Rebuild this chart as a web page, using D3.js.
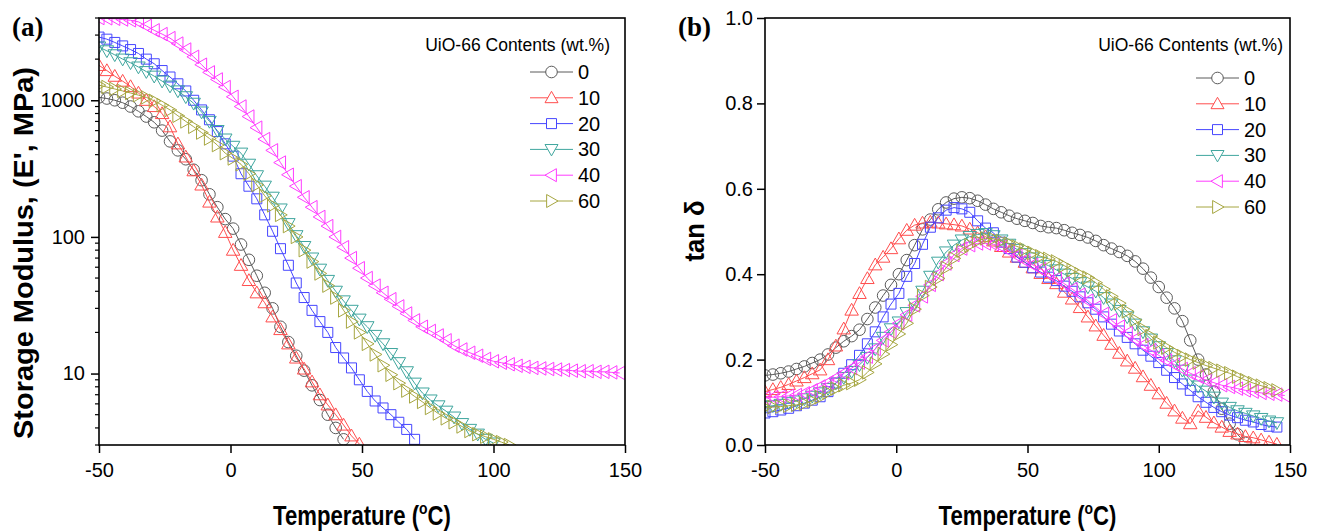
<!DOCTYPE html>
<html>
<head>
<meta charset="utf-8" />
<script src="https://d3js.org/d3.v7.min.js"></script>
<style>
  body { margin: 0; background: #fff; }
  text { font-family: "Liberation Sans", Arial, sans-serif; fill: #000; }
  .tick-label { font-size: 20px; }
  .axis-title { font-size: 28px; font-weight: bold; }
  .panel-tag { font-family: "Liberation Serif", "Times New Roman", serif; font-size: 27px; font-weight: bold; }
  .legend-title { font-size: 17.5px; }
  .legend-label { font-size: 20px; }
</style>
</head>
<body>
<svg width="1319" height="532"></svg>
<script>
// temperature grid (deg C) shared by all series; shorter series end earlier
var temps = [-50, -47, -44, -41, -38, -35, -32, -29, -26, -23, -20, -17, -14, -11, -8, -5, -2, 1, 4, 7,
             10, 13, 16, 19, 22, 25, 28, 31, 34, 37, 40, 43, 46, 49, 52, 55, 58, 61, 64, 67,
             70, 73, 76, 79, 82, 85, 88, 91, 94, 97, 100, 103, 106, 109, 112, 115, 118, 121, 124, 127,
             130, 133, 136, 139, 142, 145, 148];

var contents = ["0", "10", "20", "30", "40", "60"];
var colors = ["#5a5a5a", "#ff4d4d", "#4646ff", "#3fa69e", "#ff3cff", "#a6a640"];
var shapes = ["circle", "up", "square", "down", "left", "right"];

// (a) storage modulus E' (MPa)
var modulus0 = [1050, 1030, 1000, 960, 900, 830, 760, 690, 600, 500, 430, 370, 310, 260, 205, 165, 135, 115, 88, 68,
                52, 39, 30, 22, 17, 13.5, 10.5, 8.2, 6.4, 5.0, 4.0, 3.3];
var modulus10 = [1800, 1650, 1500, 1380, 1260, 1130, 1000, 900, 800, 640, 480, 385, 305, 240, 180, 140, 108, 80, 62, 48,
                 39, 33, 26, 21, 16.5, 13, 10.8, 8.7, 7.0, 5.9, 5.0, 4.2, 3.5, 3.05];
var modulus20 = [2900, 2800, 2650, 2500, 2350, 2200, 2000, 1850, 1650, 1480, 1320, 1170, 1000, 850, 720, 590, 480, 390, 290, 235,
                 190, 145, 110, 82, 62, 46, 36, 29, 24, 20, 15.5, 13, 11, 9, 7.4, 6.3, 5.6, 5.0, 4.4, 3.9,
                 3.3];
var modulus30 = [2450, 2300, 2150, 2000, 1880, 1750, 1620, 1500, 1380, 1270, 1170, 1060, 950, 820, 700, 600, 520, 460, 410, 340,
                 280, 235, 195, 160, 125, 102, 85, 70, 58, 48, 40, 34, 29, 25, 22, 19, 16.5, 14, 12, 10.3,
                 8.5, 7.2, 6.4, 5.8, 5.3, 4.8, 4.3, 3.9, 3.6, 3.3, 3.1];
var modulus40 = [4000, 3980, 3950, 3900, 3850, 3750, 3500, 3250, 3050, 2850, 2600, 2350, 2080, 1820, 1600, 1420, 1250, 1060, 900, 760,
                 630, 520, 430, 350, 285, 235, 195, 165, 140, 120, 100, 84, 70, 59, 50, 44, 39, 35, 31, 27.5,
                 24.5, 22, 20.5, 19, 17.5, 16, 15, 14.2, 13.5, 12.8, 12.3, 12, 11.7, 11.4, 11.2, 11, 10.9, 10.8, 10.7, 10.6,
                 10.5, 10.4, 10.4, 10.3, 10.3, 10.2, 10.1];
var modulus60 = [1290, 1250, 1210, 1170, 1130, 1090, 1050, 990, 920, 850, 770, 700, 640, 580, 525, 470, 410, 375, 340, 290,
                 240, 200, 170, 145, 120, 100, 80, 66, 54, 44, 36, 29, 24, 20, 16.5, 13.8, 11.5, 9.8, 8.5, 7.5,
                 6.8, 6.2, 5.6, 5.1, 4.7, 4.4, 4.1, 3.8, 3.6, 3.45, 3.3, 3.15, 3.0];

// (b) tan delta
var tan0 = [0.163, 0.165, 0.168, 0.172, 0.178, 0.184, 0.192, 0.200, 0.212, 0.228, 0.243, 0.255, 0.270, 0.295, 0.322, 0.350, 0.375, 0.400, 0.433, 0.468,
            0.505, 0.528, 0.552, 0.568, 0.577, 0.580, 0.578, 0.572, 0.563, 0.553, 0.545, 0.537, 0.530, 0.525, 0.520, 0.513, 0.510, 0.508, 0.503, 0.497,
            0.492, 0.486, 0.478, 0.468, 0.460, 0.452, 0.443, 0.430, 0.413, 0.392, 0.370, 0.345, 0.320, 0.290, 0.245, 0.200, 0.165, 0.125, 0.085, 0.050,
            0.025, 0.005];
var tan10 = [0.125, 0.130, 0.135, 0.142, 0.150, 0.158, 0.167, 0.176, 0.200, 0.232, 0.272, 0.316, 0.355, 0.390, 0.422, 0.440, 0.460, 0.483, 0.503, 0.515,
             0.520, 0.522, 0.520, 0.518, 0.516, 0.513, 0.506, 0.497, 0.488, 0.478, 0.465, 0.452, 0.440, 0.428, 0.415, 0.402, 0.390, 0.378, 0.358, 0.342,
             0.322, 0.300, 0.279, 0.257, 0.236, 0.215, 0.197, 0.180, 0.160, 0.140, 0.120, 0.098, 0.080, 0.063, 0.050, 0.080, 0.065, 0.052, 0.042, 0.032,
             0.026, 0.020, 0.017, 0.012, 0.007, 0.002];
var tan20 = [0.075, 0.078, 0.082, 0.086, 0.092, 0.098, 0.105, 0.113, 0.125, 0.145, 0.168, 0.188, 0.210, 0.237, 0.265, 0.300, 0.330, 0.355, 0.395, 0.425,
             0.470, 0.510, 0.532, 0.550, 0.556, 0.553, 0.545, 0.525, 0.508, 0.497, 0.475, 0.460, 0.440, 0.428, 0.415, 0.405, 0.393, 0.385, 0.372, 0.360,
             0.347, 0.333, 0.318, 0.300, 0.283, 0.267, 0.252, 0.237, 0.222, 0.208, 0.193, 0.175, 0.158, 0.143, 0.128, 0.113, 0.100, 0.088, 0.078, 0.070,
             0.064, 0.058, 0.054, 0.048, 0.044, 0.042];
var tan30 = [0.090, 0.092, 0.095, 0.099, 0.103, 0.108, 0.114, 0.122, 0.132, 0.145, 0.158, 0.172, 0.188, 0.205, 0.225, 0.252, 0.272, 0.288, 0.310, 0.330,
             0.360, 0.395, 0.428, 0.452, 0.468, 0.480, 0.488, 0.493, 0.495, 0.490, 0.480, 0.470, 0.458, 0.448, 0.438, 0.428, 0.420, 0.410, 0.400, 0.390,
             0.380, 0.370, 0.360, 0.345, 0.330, 0.315, 0.300, 0.283, 0.265, 0.248, 0.230, 0.214, 0.197, 0.175, 0.152, 0.138, 0.126, 0.112, 0.098, 0.088,
             0.080, 0.074, 0.068, 0.062, 0.056, 0.052];
var tan40 = [0.110, 0.112, 0.113, 0.115, 0.117, 0.121, 0.128, 0.137, 0.146, 0.157, 0.168, 0.180, 0.193, 0.207, 0.225, 0.245, 0.265, 0.285, 0.305, 0.327,
             0.348, 0.375, 0.400, 0.425, 0.445, 0.460, 0.468, 0.472, 0.472, 0.470, 0.465, 0.455, 0.443, 0.432, 0.422, 0.412, 0.402, 0.390, 0.378, 0.365,
             0.352, 0.338, 0.322, 0.307, 0.292, 0.277, 0.262, 0.248, 0.234, 0.222, 0.210, 0.198, 0.188, 0.178, 0.168, 0.160, 0.152, 0.146, 0.140, 0.136,
             0.132, 0.128, 0.125, 0.122, 0.120, 0.118, 0.116];
var tan60 = [0.088, 0.089, 0.090, 0.092, 0.094, 0.097, 0.103, 0.112, 0.123, 0.132, 0.140, 0.145, 0.153, 0.170, 0.190, 0.213, 0.235, 0.260, 0.285, 0.318,
             0.350, 0.370, 0.390, 0.415, 0.437, 0.455, 0.468, 0.478, 0.484, 0.483, 0.478, 0.472, 0.465, 0.458, 0.450, 0.442, 0.436, 0.430, 0.420, 0.410,
             0.400, 0.392, 0.380, 0.365, 0.348, 0.332, 0.313, 0.293, 0.272, 0.255, 0.240, 0.228, 0.217, 0.208, 0.200, 0.193, 0.186, 0.180, 0.174, 0.168,
             0.160, 0.152, 0.145, 0.139, 0.133, 0.128];

var xTicks = [-50, 0, 50, 100, 150];
var modulusTicks = [10, 100, 1000];
var modulusMinor = [3, 4, 5, 6, 7, 8, 9, 20, 30, 40, 50, 60, 70, 80, 90, 200, 300, 400, 500, 600, 700, 800, 900, 2000, 3000, 4000];
var tanTicks = [0.0, 0.2, 0.4, 0.6, 0.8, 1.0];

var svg = d3.select("svg");

function markerPath(shape, s) {
    var h = s / 2;
    if (shape == "circle") return d3.symbol().type(d3.symbolCircle).size(Math.PI * 5.8 * 5.8)();
    if (shape == "square") return "M-5,-5h10v10h-10z";
    if (shape == "up") return "M0," + (-h) + "L" + h + "," + (h * 0.75) + "L" + (-h) + "," + (h * 0.75) + "Z";
    if (shape == "down") return "M0," + h + "L" + h + "," + (-h * 0.75) + "L" + (-h) + "," + (-h * 0.75) + "Z";
    if (shape == "left") return "M" + (-h) + ",0L" + (h * 0.75) + "," + (-h) + "L" + (h * 0.75) + "," + h + "Z";
    return "M" + h + ",0L" + (-h * 0.75) + "," + (-h) + "L" + (-h * 0.75) + "," + h + "Z";
}

function drawPanel(p) {
    var g = svg.append("g");
    var x = d3.scaleLinear().domain([-50, 150]).range([p.left, p.right]);
    var y = p.log
        ? d3.scaleLog().domain([3, 4000]).range([p.bottom, p.top])
        : d3.scaleLinear().domain([0, 1]).range([p.bottom, p.top]);

    var clipId = "clip" + p.tag;
    svg.append("clipPath").attr("id", clipId).append("rect")
        .attr("x", p.left).attr("y", p.top)
        .attr("width", p.right - p.left).attr("height", p.bottom - p.top);

    var plot = g.append("g").attr("clip-path", "url(#" + clipId + ")");
    var line = d3.line().x(function (d) { return x(d[0]); }).y(function (d) { return y(d[1]); });

    p.series.forEach(function (vals, i) {
        var pts = vals.map(function (v, k) { return [temps[k], v]; });
        plot.append("path").datum(pts)
            .attr("d", line)
            .attr("fill", "none")
            .attr("stroke", colors[i])
            .attr("stroke-width", 1);
        plot.selectAll(null).data(pts).enter().append("path")
            .attr("d", markerPath(shapes[i], 13.5))
            .attr("transform", function (d) { return "translate(" + x(d[0]) + "," + y(d[1]) + ")"; })
            .attr("fill", "none")
            .attr("stroke", colors[i])
            .attr("stroke-width", 1);
    });

    // frame
    g.append("rect")
        .attr("x", p.left).attr("y", p.top)
        .attr("width", p.right - p.left).attr("height", p.bottom - p.top)
        .attr("fill", "none").attr("stroke", "#000").attr("stroke-width", 1.6);

    // x axis
    var xAxis = d3.axisBottom(x).tickValues(xTicks).tickSize(8).tickPadding(10)
        .tickFormat(d3.format("d"));
    var xg = g.append("g").attr("transform", "translate(0," + p.bottom + ")").call(xAxis);
    xg.select(".domain").remove();
    xg.selectAll("line").attr("stroke-width", 1.5);
    xg.selectAll("text").attr("class", "tick-label").attr("font-size", null).attr("font-family", null)
        .text(function (d) { return d < 0 ? "-" + Math.abs(d) : d; });

    // y axis
    var yAxis = d3.axisLeft(y).tickValues(p.log ? modulusTicks : tanTicks).tickSize(8).tickPadding(p.log ? 6 : 4)
        .tickFormat(p.log ? d3.format("d") : d3.format(".1f"));
    var yg = g.append("g").attr("transform", "translate(" + p.left + ",0)").call(yAxis);
    yg.select(".domain").remove();
    yg.selectAll("line").attr("stroke-width", 1.5);
    yg.selectAll("text").attr("class", "tick-label").attr("font-size", null).attr("font-family", null);
    if (p.log) {
        g.append("g").selectAll("line").data(modulusMinor).enter().append("line")
            .attr("x1", p.left - 4).attr("x2", p.left)
            .attr("y1", function (d) { return y(d); }).attr("y2", function (d) { return y(d); })
            .attr("stroke", "#000").attr("stroke-width", 1.2);
    }

    // x title, squeezed horizontally like the original figure
    var xt = g.append("text").attr("class", "axis-title")
        .attr("transform", "translate(" + ((p.left + p.right) / 2) + ",525) scale(0.82,1)")
        .attr("text-anchor", "middle").style("font-size", "27px");
    xt.append("tspan").text("Temperature (");
    xt.append("tspan").attr("dy", -11).style("font-size", "17px").text("o");
    xt.append("tspan").attr("dy", 11).text("C)");

    g.append("text").attr("class", "axis-title")
        .attr("transform", "translate(" + p.ytitleX + "," + p.ytitleY + ") rotate(-90)")
        .attr("text-anchor", "middle")
        .attr("textLength", p.ytitleLen).attr("lengthAdjust", "spacingAndGlyphs")
        .text(p.ytitle);

    g.append("text").attr("class", "panel-tag")
        .attr("x", p.left - 87).attr("y", 36).text("(" + p.tag + ")");

    // legend
    var lg = g.append("g");
    lg.append("text").attr("class", "legend-title")
        .attr("x", p.legendTitleX).attr("y", 51).attr("text-anchor", "end")
        .text("UiO-66 Contents (wt.%)");
    contents.forEach(function (c, i) {
        var ly = p.legendY + i * 25.8;
        var lx = p.legendX;
        lg.append("line").attr("x1", lx).attr("x2", lx + 43).attr("y1", ly).attr("y2", ly)
            .attr("stroke", colors[i]).attr("stroke-width", 1);
        lg.append("path").attr("d", markerPath(shapes[i], 13))
            .attr("transform", "translate(" + (lx + 21.5) + "," + ly + ")")
            .attr("fill", "#fff").attr("stroke", colors[i]).attr("stroke-width", 1);
        lg.append("text").attr("class", "legend-label")
            .attr("x", lx + 48).attr("y", ly + 7).text(c);
    });
}

drawPanel({
    tag: "a", left: 99, right: 625, top: 18, bottom: 445, log: true,
    series: [modulus0, modulus10, modulus20, modulus30, modulus40, modulus60],
    ytitle: "Storage Modulus, (E', MPa)", ytitleX: 33, ytitleY: 253, ytitleLen: 372,
    legendTitleX: 610, legendX: 530, legendY: 72
});
drawPanel({
    tag: "b", left: 765, right: 1290, top: 18, bottom: 445, log: false,
    series: [tan0, tan10, tan20, tan30, tan40, tan60],
    ytitle: "tan \u03b4", ytitleX: 704, ytitleY: 231, ytitleLen: 61,
    legendTitleX: 1283, legendX: 1196, legendY: 78
});
</script>
</body>
</html>
